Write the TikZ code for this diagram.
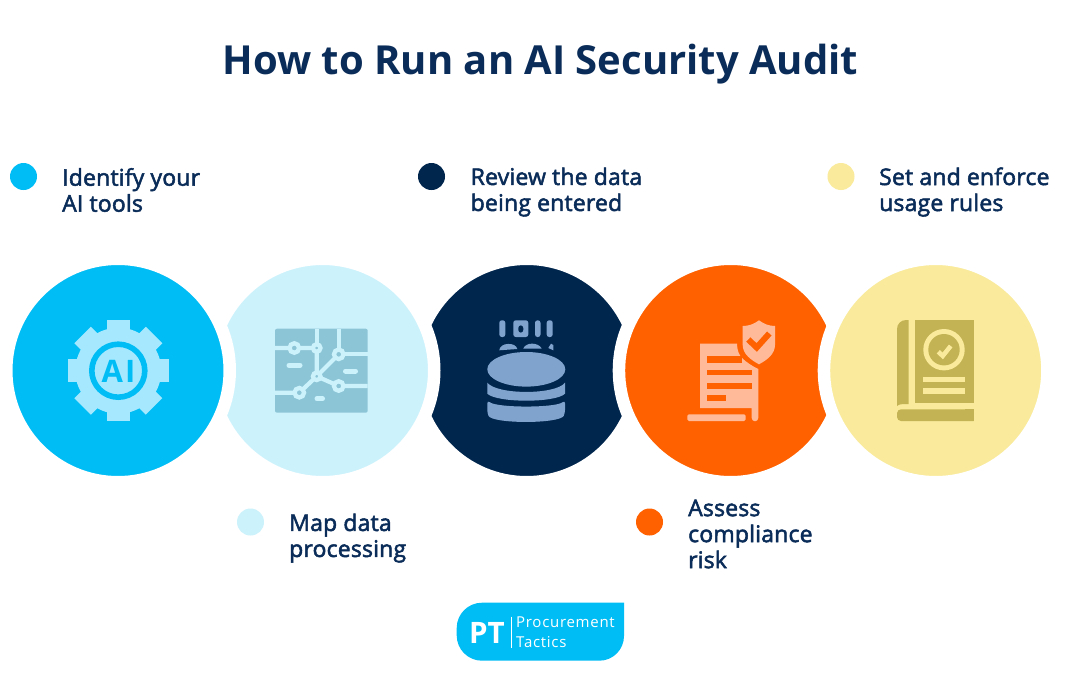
\documentclass[tikz,border=0pt]{standalone}
\usepackage{fontspec}
\setmainfont{Open Sans}
\newfontfamily\semifont[FakeBold=2.2,LetterSpace=0.8]{Open Sans}
\newfontfamily\logofont[LetterSpace=4.8]{Open Sans}
\usepackage{xcolor}
\definecolor{navy}{HTML}{0A2C58}
\definecolor{skyc}{HTML}{00BDF5}
\definecolor{palec}{HTML}{CCF2FC}
\definecolor{deepc}{HTML}{01264E}
\definecolor{orangec}{HTML}{FF6100}
\definecolor{yellowc}{HTML}{F9EB9B}
\definecolor{gearc}{HTML}{A6E9FF}
\definecolor{mapc}{HTML}{8CC5D6}
\definecolor{diskc}{HTML}{7FA3CC}
\definecolor{docc}{HTML}{FFBB99}
\definecolor{bookc}{HTML}{C4B354}

\begin{document}
\begin{tikzpicture}[x=1pt,y=-1pt]
\tikzstyle{circ} = [circle,draw=white,line width=12.5pt,minimum size=223.5pt,inner sep=0];
\tikzstyle{dot} = [circle,minimum size=27pt,inner sep=0];
\tikzstyle{label} = [font=\semifont\fontsize{23}{26}\selectfont,color=navy,align=left,anchor=west,inner sep=0];
\tikzstyle{maproad} = [draw=palec,line width=4.2pt];
\tikzstyle{bigjoint} = [circle,fill=mapc,draw=palec,line width=4.3pt,minimum size=9.5pt,inner sep=0];
\tikzstyle{smalljoint} = [circle,fill=mapc,draw=palec,line width=4.3pt,minimum size=7.5pt,inner sep=0];
\useasboundingbox (0,0) rectangle (1080,675);
\fill[white] (0,0) rectangle (1080,675);

\node [font=\bfseries\fontsize{40}{44}\selectfont,color=navy,anchor=base,inner sep=0] (title) at (540.5,74) {How to Run an AI Security Audit};

\node [dot,fill=skyc] (d1) at (23.5,176.5) {};
\node [dot,fill=deepc] (d3) at (431.5,176.5) {};
\node [dot,fill=yellowc] (d5) at (841,176.5) {};
\node [dot,fill=palec] (d2) at (250.5,522) {};
\node [dot,fill=orangec] (d4) at (649.5,522) {};
\node [label] (l1) at (62,190) {Identify your\\AI tools};
\node [label] (l3) at (470.5,192) {Review the data\\being entered};
\node [label] (l5) at (879,192) {Set and enforce\\usage rules};
\node [label] (l2) at (289,538) {Map data\\processing};
\node [label] (l4) at (688,534) {Assess\\compliance\\risk};

\node [circ,fill=deepc] (c3) at (526.7,370.5) {};
\node [circ,fill=palec] (c2) at (322.5,370.5) {};
\node [circ,fill=orangec] (c4) at (730.7,370.5) {};
\node [circ,fill=skyc] (c1) at (118,370.5) {};
\node [circ,fill=yellowc] (c5) at (935.7,370.5) {};

% gear
\fill[gearc] (118.3,370.7) circle (43);
\fill[gearc] (106.7,320.2) rectangle (130,421.2);
\fill[gearc] (67.8,359) rectangle (168.8,382.4);
\fill[gearc,rotate around={45:(118.3,370.7)}] (106.7,320.2) rectangle (130,421.2);
\fill[gearc,rotate around={-45:(118.3,370.7)}] (106.7,320.2) rectangle (130,421.2);
\draw[skyc,line width=5.6pt] (118.3,370.7) circle (26.5);
\node [font=\bfseries\fontsize{31}{31}\selectfont,color=skyc,anchor=base,inner sep=0] (ai) at (118.5,382) {A\hspace{2pt}I};

% map
\fill[mapc,rounded corners=2pt] (275,328.7) rectangle (367.7,412.7);
\coordinate (m1) at (294.3,348);
\coordinate (m2) at (316.7,348);
\coordinate (m3) at (338.7,354.3);
\coordinate (m4) at (316.7,376.3);
\coordinate (m5) at (299.3,392.7);
\coordinate (m6) at (338.7,386);
\draw[maproad] (275,348) -- (m1) -- (m2) -- (m4) -- (m5) -- (275,392.7);
\draw[maproad] (316.7,328.7) -- (m2);
\draw[maproad] (338.7,328.7) -- (m3) -- (367.7,354.3);
\draw[maproad] (m3) -- (m4) -- (m6) -- (367.7,386);
\node [bigjoint] (j1) at (m1) {};
\node [smalljoint] (j2) at (m2) {};
\node [bigjoint] (j3) at (m3) {};
\node [smalljoint] (j4) at (m4) {};
\node [bigjoint] (j5) at (m5) {};
\node [bigjoint] (j6) at (m6) {};
\draw[palec,line width=5pt,line cap=round] (289,365.3) -- (300,365.3);
\draw[palec,line width=5pt,line cap=round] (345.5,371) -- (355.5,371);
\draw[palec,line width=5pt,line cap=round] (317,398.7) -- (322.5,398.7);

% database
\fill[diskc] (526.3,369.3) ellipse (39 and 17.3);
\fill[diskc] (487.3,382.7) .. controls (497,395) and (555.6,395) .. (565,382.7) -- (565,393.7) .. controls (555.6,403) and (497,403) .. (487.3,393.7) -- cycle;
\fill[diskc,rounded corners=3pt] (487.3,400.3) .. controls (497,408) and (555.6,408) .. (565,400.3) -- (565,413) .. controls (560,424) and (492,424) .. (487.3,413) -- cycle;
\fill[diskc,rounded corners=2.5pt] (499.3,320.3) rectangle (505.3,337);
\fill[diskc,rounded corners=2.5pt,even odd rule] (513.3,320.3) rectangle (528.3,337) (518.3,325.3) rectangle (523.3,332.7);
\fill[diskc,rounded corners=2.5pt] (535,320.3) rectangle (540.5,337);
\fill[diskc,rounded corners=2.5pt] (546.7,320.3) rectangle (552.7,337);
\fill[diskc] (499.3,350.3) .. controls (500,342) and (516,342) .. (517.3,349) -- cycle;
\fill[diskc] (523.3,348.5) .. controls (526,342) and (538,342) .. (541.7,348.5) -- cycle;
\fill[diskc] (548.3,348) -- (551,343.7) -- (553.3,345) -- (553.3,350.3) -- cycle;

% document and shield
\fill[docc] (700,343.7) -- (737,343.7) .. controls (737,350) and (739,355) .. (742,358) .. controls (746,362) and (752,366) .. (758.3,369) -- (758.3,418) arc[start angle=0,end angle=180,radius=3.3] -- (751.7,408) -- (700,408) -- cycle;
\fill[orangec] (707.3,356.3) rectangle (742,362.7);
\fill[orangec] (707.3,369.7) rectangle (751.7,375.3);
\fill[orangec] (707.3,382.7) rectangle (751.7,388.7);
\fill[orangec] (707.3,395.3) rectangle (725.7,401.3);
\fill[docc,rounded corners=1.5pt] (687.3,414.3) rectangle (745.7,421);
\fill[docc] (742.7,326) .. controls (749,326) and (754,324) .. (759,320.3) .. controls (764,324) and (769,326) .. (775,326) -- (775,345) .. controls (775,354) and (767,360) .. (759,364.3) .. controls (751,360) and (742.7,354) .. (742.7,345) -- cycle;
\draw[orangec,line width=6pt] (748.3,339.5) -- (756.7,347.5) -- (769.3,333.5);

% book
\fill[bookc] (908.7,320) -- (908.7,404) -- (903,404) .. controls (900,404) and (898,405) .. (897,406) -- (897,329) arc[start angle=180,end angle=270,radius=9] -- cycle;
\fill[bookc] (914.7,320) rectangle (973.7,403.3);
\fill[bookc,rounded corners=4pt] (973.7,409.3) -- (897,409.3) -- (897,421) -- (973.7,421);
\fill[bookc] (965,409.3) rectangle (973.7,421);
\fill[yellowc] (944,349.7) circle (20.7);
\fill[bookc] (944,349.7) circle (15.7);
\draw[yellowc,line width=4.5pt] (938.3,351.7) -- (942.7,356) -- (950.7,346);
\fill[yellowc] (923.3,376.7) rectangle (965,382.3);
\fill[yellowc] (923.3,388.3) rectangle (965,394.3);

% logo
\fill[skyc] (482,602.7) -- (624,602.7) -- (624,636) arc[start angle=0,end angle=90,radius=24.7] -- (482,660.7) arc[start angle=90,end angle=180,radius=25.3] -- (456.7,628) arc[start angle=180,end angle=270,radius=25.3] -- cycle;
\node [font=\bfseries\fontsize{29.5}{30}\selectfont,color=white,anchor=base west,inner sep=0] (pt) at (469,643.3) {PT};
\node [font=\logofont\fontsize{15}{15}\selectfont,color=white,anchor=base west,inner sep=0] (proc) at (516,627.3) {Procurement};
\node [font=\logofont\fontsize{15}{15}\selectfont,color=white,anchor=base west,inner sep=0] (tact) at (516,647.7) {Tactics};
\draw[white,line width=0.8pt] (511,616.7) -- (511,648.3);
\end{tikzpicture}
\end{document}
